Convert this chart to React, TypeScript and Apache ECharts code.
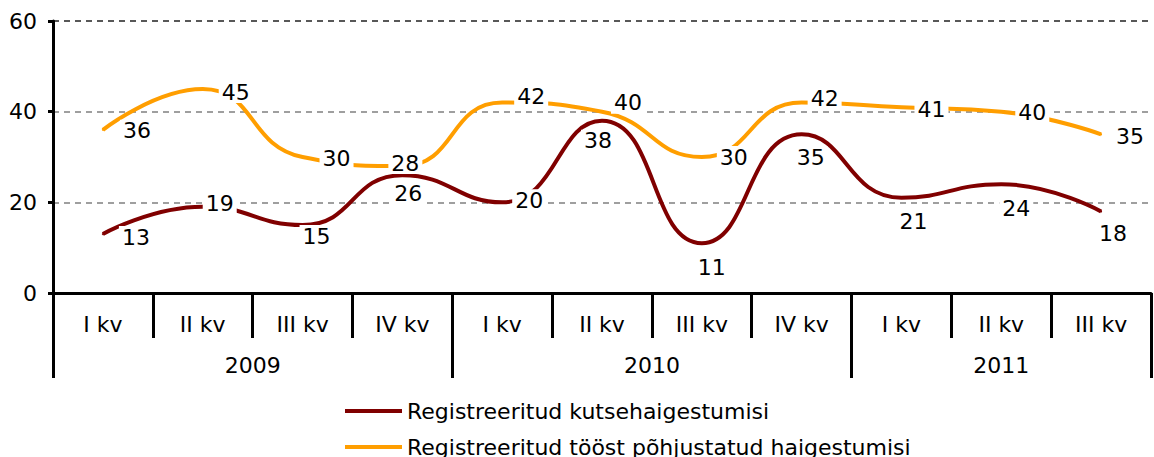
import React, { useEffect, useRef } from 'react';
import * as echarts from 'echarts';

const quarters = ['I kv', 'II kv', 'III kv', 'IV kv', 'I kv', 'II kv', 'III kv', 'IV kv', 'I kv', 'II kv', 'III kv'];
const years = ['2009', '2010', '2011'];
const quartersPerYear = [4, 4, 3];
const kutsehaigestumisi = [13, 19, 15, 26, 20, 38, 11, 35, 21, 24, 18];
const toostHaigestumisi = [36, 45, 30, 28, 42, 40, 30, 42, 41, 40, 35];
const yMin = 0;
const yMax = 60;
const yStep = 20;
const seriesNames = ['Registreeritud kutsehaigestumisi', 'Registreeritud tööst põhjustatud haigestumisi'];

// label placement (layout only, offsets of the label centre from its point, px)
const kutseLabelOffset = [[33, 3], [17, -3], [14, 11], [6, 18], [27, -2], [-4, 20], [10, 24], [9, 23], [12, 24], [15, 24], [12, 22]];
const toostLabelOffset = [[34, 1], [33, 3], [34, 1], [3, -3], [29, -6], [26, -9], [32, 0], [23, -4], [30, 2], [31, 1], [29, 2]];

const FONT = 'DejaVu Sans';
const FS = 22;

export default function App() {
  const ref = useRef<HTMLDivElement>(null);

  useEffect(() => {
    if (!ref.current) return;
    const chart = echarts.init(ref.current, undefined, { renderer: 'svg' });

    const yearCentres: number[] = [];
    let acc = 0;
    quartersPerYear.forEach((n) => {
      yearCentres.push(acc + n / 2);
      acc += n;
    });
    const total = quarters.length;

    const labelBase = {
      show: true,
      position: 'inside',
      fontSize: FS,
      fontFamily: FONT,
      color: '#000',
      backgroundColor: '#fff',
      padding: [0, 3],
      textBorderWidth: 0,
    };

    chart.setOption({
      animation: false,
      textStyle: { fontFamily: FONT },
      grid: { left: 53, right: -10, top: 21, bottom: 164, containLabel: false },
      legend: {
        orient: 'vertical',
        left: 345,
        top: 400,
        height: 120,
        padding: 0,
        icon: 'rect',
        itemWidth: 57,
        itemHeight: 4,
        itemGap: 14,
        textStyle: { fontSize: FS, fontFamily: FONT, color: '#000', lineHeight: 22 },
        data: seriesNames,
      },
      xAxis: [
        {
          type: 'category',
          data: quarters,
          boundaryGap: true,
          position: 'bottom',
          axisLine: { show: true, lineStyle: { color: '#000', width: 3 } },
          axisTick: { show: true, interval: 0, length: 45, lineStyle: { color: '#000', width: 3 } },
          axisLabel: { interval: 0, fontSize: FS, fontFamily: FONT, color: '#000', margin: 20 },
          splitLine: { show: false },
        },
        {
          type: 'value',
          min: 0,
          max: total,
          interval: 4,
          position: 'bottom',
          axisLine: { show: false },
          axisTick: { show: true, length: 85, lineStyle: { color: '#000', width: 3 } },
          axisLabel: { show: false },
          splitLine: { show: false },
        },
        {
          type: 'value',
          min: 0,
          max: total,
          interval: 0.5,
          position: 'bottom',
          axisLine: { show: false },
          axisTick: { show: false },
          axisLabel: {
            show: true,
            fontSize: FS,
            fontFamily: FONT,
            color: '#000',
            margin: 61,
            showMinLabel: true,
            showMaxLabel: true,
            formatter: (v: number) => {
              const i = yearCentres.findIndex((c) => Math.abs(c - v) < 1e-6);
              return i >= 0 ? years[i] : '';
            },
          },
          splitLine: { show: false },
        },
      ],
      yAxis: {
        type: 'value',
        min: yMin,
        max: yMax,
        interval: yStep,
        axisLine: { show: true, lineStyle: { color: '#000', width: 3 } },
        axisTick: { show: true, length: 5, lineStyle: { color: '#000', width: 3 } },
        axisLabel: { fontSize: FS, fontFamily: FONT, color: '#000', margin: 16 },
        splitLine: {
          show: true,
          lineStyle: { color: ['#808080', '#808080', '#808080', '#222'], type: [6, 5], width: 1.5 },
        },
      },
      series: [
        {
          name: seriesNames[0],
          type: 'line',
          xAxisIndex: 0,
          data: kutsehaigestumisi.map((v, i) => ({ value: v, label: { offset: kutseLabelOffset[i] } })),
          smooth: 0.5,
          symbol: 'circle',
          symbolSize: 2,
          showSymbol: true,
          lineStyle: { color: '#800000', width: 4 },
          itemStyle: { color: '#800000' },
          label: labelBase,
          emphasis: { disabled: true },
        },
        {
          name: seriesNames[1],
          type: 'line',
          xAxisIndex: 0,
          data: toostHaigestumisi.map((v, i) => ({ value: v, label: { offset: toostLabelOffset[i] } })),
          smooth: 0.5,
          symbol: 'circle',
          symbolSize: 2,
          showSymbol: true,
          lineStyle: { color: '#FF9E00', width: 4 },
          itemStyle: { color: '#FF9E00' },
          label: labelBase,
          emphasis: { disabled: true },
        },
      ],
    });

    return () => chart.dispose();
  }, []);

  return (
    <div
      ref={ref}
      style={{ position: 'absolute', left: 0, top: 0, width: 1154, height: 457, background: '#fff' }}
    />
  );
}
